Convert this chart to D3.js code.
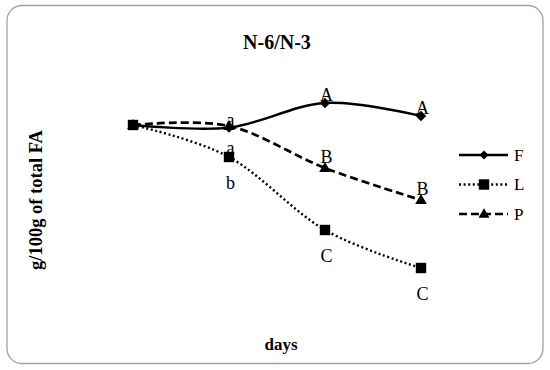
<!DOCTYPE html>
<html>
<head>
<meta charset="utf-8">
<script src="https://cdn.jsdelivr.net/npm/d3@7"></script>
<style>
  html, body { margin: 0; padding: 0; background: #fff; }
  svg { display: block; font-family: "Liberation Serif", "Times New Roman", serif; }
</style>
</head>
<body>
<svg id="chart" width="550" height="370"></svg>
<script>
// ---- data ----
const days = ["0", "1", "2", "3"];
const seriesNames = ["F", "L", "P"];
const valuesF = [10.0, 9.87, 11.1, 10.45];
const valuesL = [10.0, 8.4, 4.75, 2.85];
const valuesP = [10.0, 9.95, 7.85, 6.25];
// significance letters placed above / below each point
const lettersAboveF = ["", "a", "A", "A"];
const lettersAboveP = ["", "", "B", "B"];
const lettersAboveL = ["", "a", "", ""];
const lettersBelowL = ["", "b", "C", "C"];

const titleText = "N-6/N-3";
const yLabel = "g/100g of total FA";
const xLabel = "days";

// ---- drawing ----
const svg = d3.select("#chart");

svg.append("rect")
  .attr("x", 7).attr("y", 5.5).attr("width", 536).attr("height", 358)
  .attr("rx", 15).attr("ry", 15)
  .attr("fill", "#fff").attr("stroke", "#a0a0a0").attr("stroke-width", 1.3);

const x = d3.scalePoint().domain(days).range([133, 421]);
const y = d3.scaleLinear().domain([0, 12]).range([325, 85]);

const line = d3.line()
  .x((d, i) => x(days[i]))
  .y(d => y(d))
  .curve(d3.curveCatmullRom.alpha(0));

const styles = {
  F: { dash: null, width: 2.4 },
  L: { dash: "2,2.6", width: 2.4 },
  P: { dash: "8,4", width: 2.7 }
};
const dataBy = { F: valuesF, L: valuesL, P: valuesP };

const diamond = r => `M0,${-r}L${r},0L0,${r}L${-r},0Z`;
const square = r => `M${-r},${-r}H${r}V${r}H${-r}Z`;
const triangle = r => `M0,${-r * 1.15}L${r * 1.1},${r * 0.75}L${-r * 1.1},${r * 0.75}Z`;
const markers = { F: diamond(5.2), L: square(5.2), P: triangle(5.3) };
const legendMarkers = { F: diamond(4.5), L: square(5.2), P: triangle(5) };

function drawLine(name) {
  const st = styles[name];
  svg.append("path")
    .datum(dataBy[name])
    .attr("d", line)
    .attr("fill", "none")
    .attr("stroke", "#000")
    .attr("stroke-width", st.width)
    .attr("stroke-dasharray", st.dash);
}
function drawMarkers(name) {
  svg.append("g").selectAll("path")
    .data(dataBy[name])
    .join("path")
    .attr("d", markers[name])
    .attr("transform", (d, i) => `translate(${x(days[i])},${y(d)})`)
    .attr("fill", "#000");
}

// order: P, F, L (L squares on top)
["P", "F", "L"].forEach(n => drawLine(n));
["P", "F", "L"].forEach(n => drawMarkers(n));

function drawLetters(arr, vals, offset) {
  svg.append("g").selectAll("text")
    .data(arr)
    .join("text")
    .attr("x", (d, i) => x(days[i]) + 1.5)
    .attr("y", (d, i) => y(vals[i]) + offset)
    .attr("dy", "0.35em")
    .attr("text-anchor", "middle")
    .attr("font-size", 18)
    .attr("fill", "#000")
    .text(d => d);
}
drawLetters(lettersAboveF, valuesF, -8);
drawLetters(lettersAboveP, valuesP, -11.5);
drawLetters(lettersAboveL, valuesL, -9);
drawLetters(lettersBelowL, valuesL, 25.5);

// title & axis labels
svg.append("text")
  .attr("x", 277).attr("y", 49)
  .attr("text-anchor", "middle")
  .attr("font-size", 20).attr("font-weight", "bold")
  .text(titleText);

svg.append("text")
  .attr("transform", "translate(42,200) rotate(-90)")
  .attr("text-anchor", "middle")
  .attr("font-size", 18.5).attr("font-weight", "bold")
  .text(yLabel);

svg.append("text")
  .attr("x", 281).attr("y", 350)
  .attr("text-anchor", "middle")
  .attr("font-size", 17).attr("font-weight", "bold")
  .text(xLabel);

// legend
const legendY = d3.scalePoint().domain(seriesNames).range([155, 214]);
const lg = svg.append("g");
seriesNames.forEach(n => {
  const yy = legendY(n);
  lg.append("line")
    .attr("x1", 459).attr("x2", 508)
    .attr("y1", yy).attr("y2", yy)
    .attr("stroke", "#000")
    .attr("stroke-width", styles[n].width)
    .attr("stroke-dasharray", styles[n].dash);
  lg.append("path")
    .attr("d", legendMarkers[n])
    .attr("transform", `translate(484,${yy})`)
    .attr("fill", "#000");
  lg.append("text")
    .attr("x", 514).attr("y", yy)
    .attr("dy", "0.35em")
    .attr("font-size", 17)
    .text(n);
});
</script>
</body>
</html>
